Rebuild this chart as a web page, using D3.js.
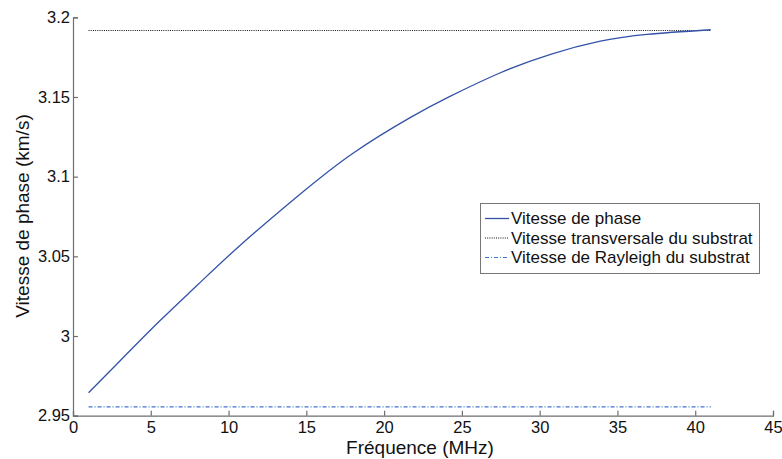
<!DOCTYPE html>
<html><head><meta charset="utf-8">
<script src="https://cdn.jsdelivr.net/npm/d3@7"></script>
<style>body{margin:0;background:#fff;}svg{display:block;font-family:"Liberation Sans",Arial,sans-serif;}</style>
</head><body><svg id="c" width="782" height="459"></svg>
<script>
const freq  = [1, 3, 5.6, 8, 10.7, 14.4, 18, 21.7, 24.2, 27.4, 30.7, 33.9, 36.9, 41];
const phase = [2.9644, 2.9842, 3.0097, 3.0320, 3.0565, 3.0874, 3.1147, 3.1372, 3.1502, 3.1649, 3.1768, 3.1850, 3.1893, 3.1922];
const vTrans = 3.1920;
const vRayleigh = 2.9556;
const hRange = [1, 41];
const xTicks = [0, 5, 10, 15, 20, 25, 30, 35, 40, 45];
const yTicks = [2.95, 3, 3.05, 3.1, 3.15, 3.2];
const legendLabels = ["Vitesse de phase", "Vitesse transversale du substrat", "Vitesse de Rayleigh du substrat"];

const FONT = "'Liberation Sans', Arial, sans-serif";
const svg = d3.select("#c");
const x = d3.scaleLinear().domain([0, 45]).range([73, 773]);
const y = d3.scaleLinear().domain([2.95, 3.2]).range([415.7, 17.3]);
const axisCol = "#6e6e6e";

// axes
const gx = svg.append("g").attr("transform", "translate(0,415.7)")
  .call(d3.axisBottom(x).tickValues(xTicks).tickFormat(d3.format("d")).tickSize(-5).tickPadding(6));
const gy = svg.append("g").attr("transform", "translate(73,0)")
  .call(d3.axisLeft(y).tickValues(yTicks).tickFormat(d => d3.format("")(d)).tickSize(-5).tickPadding(3));
[gx, gy].forEach(g => {
  g.attr("font-family", null).attr("font-size", null);
  g.select(".domain").attr("stroke", axisCol).attr("stroke-width", 1.2);
  g.selectAll(".tick line").attr("stroke", axisCol).attr("stroke-width", 1.2);
  g.selectAll(".tick text").attr("fill", "#111").style("font-size", "16.5px").style("font-family", FONT);
});

// lines
svg.append("line").attr("x1", x(hRange[0])).attr("x2", x(hRange[1]))
  .attr("y1", Math.round(y(vTrans)) + 0.5).attr("y2", Math.round(y(vTrans)) + 0.5)
  .attr("stroke", "#111").attr("stroke-width", 1).attr("stroke-dasharray", "1,1.2");
svg.append("line").attr("x1", x(hRange[0])).attr("x2", x(hRange[1])).attr("y1", y(vRayleigh)).attr("y2", y(vRayleigh))
  .attr("stroke", "#3e74cc").attr("stroke-width", 1.2).attr("stroke-dasharray", "4,2,1,2");
const line = d3.line().x((d, i) => x(freq[i])).y(d => y(d)).curve(d3.curveNatural);
svg.append("path").datum(phase).attr("d", line).attr("fill", "none").attr("stroke", "#3352a8").attr("stroke-width", 1.3);

// axis labels
svg.append("text").attr("x", 420).attr("y", 453.5).attr("text-anchor", "middle")
  .style("font-size", "19px").style("font-family", FONT).attr("fill", "#111").text("Fréquence (MHz)");
svg.append("text").attr("transform", "translate(29,216) rotate(-90)").attr("text-anchor", "middle")
  .style("font-size", "19px").style("font-family", FONT).attr("fill", "#111").text("Vitesse de phase (km/s)");

// legend
const lg = svg.append("g");
lg.append("rect").attr("x", 480.5).attr("y", 203.5).attr("width", 279).attr("height", 70)
  .attr("fill", "#fff").attr("stroke", "#777").attr("stroke-width", 1);
const styles = [
  {c: "#3352a8", d: null, w: 1.3},
  {c: "#111", d: "1,1.2", w: 1},
  {c: "#3e74cc", d: "4,2,1,2", w: 1.2}
];
const rowY = [218.5, 238, 257.5];
legendLabels.forEach((t, i) => {
  lg.append("line").attr("x1", 485).attr("x2", 509).attr("y1", rowY[i]).attr("y2", rowY[i])
    .attr("stroke", styles[i].c).attr("stroke-width", styles[i].w).attr("stroke-dasharray", styles[i].d);
  lg.append("text").attr("x", 511).attr("y", rowY[i]).attr("dy", "0.35em")
    .style("font-size", "17px").style("font-family", FONT).attr("fill", "#111").text(t);
});
</script></body></html>
